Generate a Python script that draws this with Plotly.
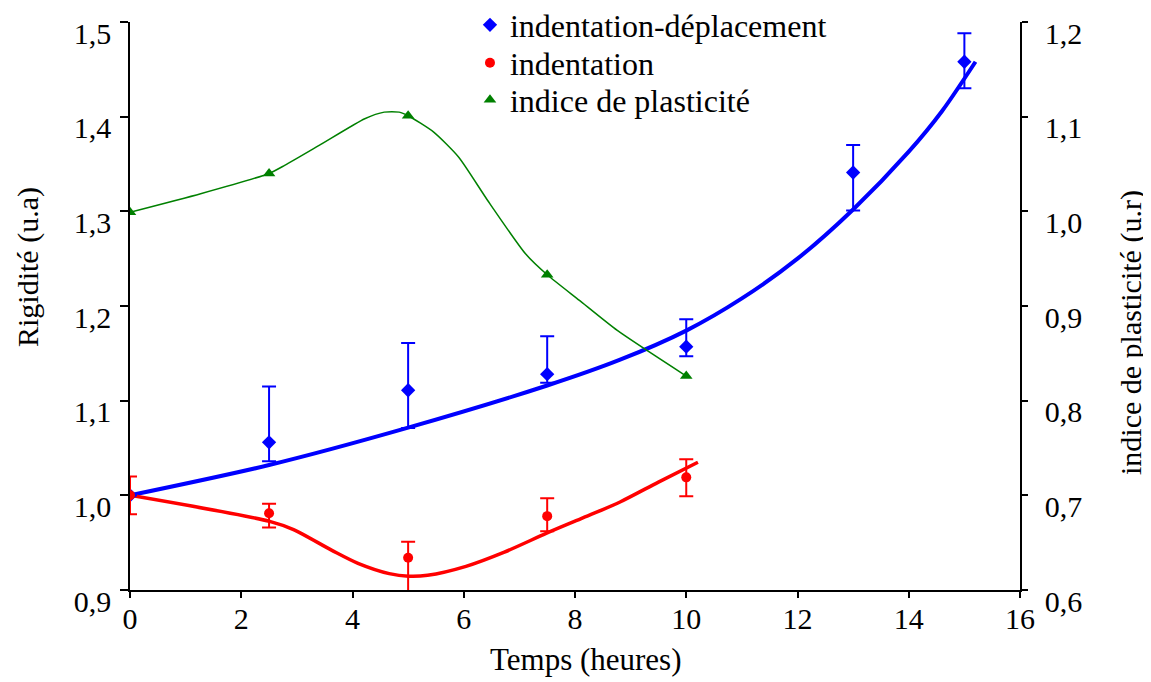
import plotly.graph_objects as go

# ---- data ----
time_pts = [0, 2.5, 5, 7.5, 10]
time_blue = [0, 2.5, 5, 7.5, 10, 13, 15]

# indentation-déplacement (left axis, Rigidité)
blue_vals = [1.0, 1.056, 1.111, 1.128, 1.157, 1.341, 1.458]
blue_err_plus = [0.0, 0.059, 0.050, 0.040, 0.029, 0.029, 0.030]
blue_err_minus = [0.0, 0.020, 0.040, 0.009, 0.010, 0.040, 0.028]

# indentation (left axis)
red_vals = [1.0, 0.981, 0.934, 0.978, 1.019]
red_err_plus = [0.020, 0.010, 0.017, 0.019, 0.019]
red_err_minus = [0.020, 0.015, 0.040, 0.016, 0.020]

# indice de plasticité (right axis)
green_vals = [0.999, 1.040, 1.101, 0.933, 0.826]

# smoothed / trend curves
green_curve_x = [0, 1.27, 2.5, 2.78, 3.4, 4.22, 4.57, 4.84, 5.0, 5.46, 5.91, 6.43, 7.11, 7.5, 8.08, 8.76, 10]
green_curve_y = [0.999, 1.0186, 1.040, 1.0485, 1.0696, 1.0978, 1.1048, 1.1048, 1.101, 1.0837, 1.0572, 1.0115, 0.9552, 0.933, 0.9059, 0.8742, 0.826]
blue_trend_x = [0, 2.5, 5, 7.5, 8.8, 10, 11, 12, 13, 14, 14.6, 15.2]
blue_trend_y = [1.0, 1.032, 1.0715, 1.116, 1.143, 1.174, 1.208, 1.250, 1.302, 1.363, 1.406, 1.458]
red_trend_x = [0, 2.51, 2.94, 3.63, 4.11, 4.66, 5.01, 5.35, 6.04, 6.73, 7.49, 8.11, 8.81, 9.5, 10.21]
red_trend_y = [1.0, 0.9725, 0.9638, 0.9419, 0.9279, 0.9173, 0.9145, 0.9155, 0.925, 0.940, 0.960, 0.9754, 0.993, 1.014, 1.035]

# ticks
x_ticks = [0, 2, 4, 6, 8, 10, 12, 14, 16]
y_ticks = [0.9, 1.0, 1.1, 1.2, 1.3, 1.4, 1.5]
y_ticktext = ["0,9", "1,0", "1,1", "1,2", "1,3", "1,4", "1,5"]
y2_ticks = [0.6, 0.7, 0.8, 0.9, 1.0, 1.1, 1.2]
y2_ticktext = ["0,6", "0,7", "0,8", "0,9", "1,0", "1,1", "1,2"]

x_title = "Temps (heures)"
y_title = "Rigidité (u.a)"
y2_title = "indice de plasticité (u.r)"

BLUE = "#0000FF"
RED = "#FF0000"
GREEN = "#008000"
FONT = "Liberation Serif"

fig = go.Figure()

fig.add_trace(go.Scatter(x=green_curve_x, y=green_curve_y, yaxis="y2", mode="lines",
                         line=dict(color=GREEN, width=1.5, shape="spline", smoothing=0.6),
                         showlegend=False, hoverinfo="skip"))
fig.add_trace(go.Scatter(x=blue_trend_x, y=blue_trend_y, mode="lines",
                         line=dict(color=BLUE, width=4, shape="spline", smoothing=0.8),
                         showlegend=False, hoverinfo="skip"))
fig.add_trace(go.Scatter(x=red_trend_x, y=red_trend_y, mode="lines",
                         line=dict(color=RED, width=3.5, shape="spline", smoothing=0.8),
                         showlegend=False, hoverinfo="skip"))

fig.add_trace(go.Scatter(x=time_blue, y=blue_vals, mode="markers", name="indentation-déplacement",
                         legend="legend",
                         marker=dict(symbol="diamond", color=BLUE, size=11),
                         error_y=dict(type="data", symmetric=False, array=blue_err_plus,
                                      arrayminus=blue_err_minus, color=BLUE, thickness=2, width=7)))
fig.add_trace(go.Scatter(x=time_pts, y=red_vals, mode="markers", name="indentation",
                         legend="legend2",
                         marker=dict(symbol="circle", color=RED, size=10),
                         error_y=dict(type="data", symmetric=False, array=red_err_plus,
                                      arrayminus=red_err_minus, color=RED, thickness=2, width=7)))
fig.add_trace(go.Scatter(x=time_pts, y=green_vals, yaxis="y2", mode="markers", name="indice de plasticité",
                         legend="legend3",
                         marker=dict(symbol="triangle-up", color=GREEN, size=11)))

leg_common = dict(x=0.382, xanchor="left", yanchor="middle", bgcolor="rgba(0,0,0,0)",
                  font=dict(family=FONT, size=32, color="black"))

axis_common = dict(showgrid=False, zeroline=False, showline=True, linecolor="black", linewidth=1.5,
                   ticks="outside", tickcolor="black", tickwidth=1.5, automargin=False,
                   ticklabeloverflow="allow",
                   tickfont=dict(family=FONT, size=30, color="black"))

fig.update_layout(
    width=1143, height=674,
    margin=dict(l=122, r=131, t=14, b=92, autoexpand=False),
    paper_bgcolor="white", plot_bgcolor="white",
    font=dict(family=FONT, color="black", size=30),
    showlegend=True,
    legend=dict(y=0.9947, **leg_common),
    legend2=dict(y=0.9278, **leg_common),
    legend3=dict(y=0.8627, **leg_common),
    xaxis=dict(range=[0, 16], tickvals=x_ticks, ticktext=[str(v) for v in x_ticks], ticklen=6,
               ticklabelstandoff=-5, **axis_common),
    yaxis=dict(range=[0.9, 1.5], tickvals=y_ticks, ticktext=y_ticktext, ticklen=8,
               ticklabelstandoff=3, ticklabelshift=11, **axis_common),
    yaxis2=dict(range=[0.6, 1.2], tickvals=y2_ticks, ticktext=y2_ticktext, overlaying="y", side="right",
                ticklen=6, ticklabelstandoff=11, ticklabelshift=11, **axis_common),
    annotations=[
        dict(text=x_title, xref="paper", yref="paper", x=0.5126, y=-0.1232,
             xanchor="center", yanchor="middle", showarrow=False,
             font=dict(family=FONT, size=31, color="black")),
        dict(text=y_title, xref="paper", yref="paper", x=-0.1146, y=0.5687, textangle=-90,
             xanchor="center", yanchor="middle", showarrow=False,
             font=dict(family=FONT, size=30, color="black")),
        dict(text=y2_title, xref="paper", yref="paper", x=1.1247, y=0.4542, textangle=-90,
             xanchor="center", yanchor="middle", showarrow=False,
             font=dict(family=FONT, size=30, color="black")),
    ],
)

fig.write_html("out.html")
